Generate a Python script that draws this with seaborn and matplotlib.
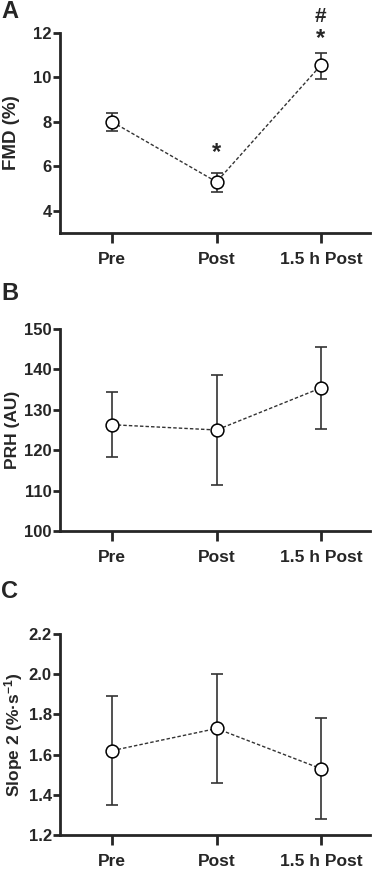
import numpy as np
import pandas as pd
import matplotlib
matplotlib.use("Agg")
import matplotlib.pyplot as plt
import seaborn as sns

# dados
grupos = ["Pre", "Post", "1.5 h Post"]

fmd_media = [8.0, 5.3, 10.55]
fmd_inf = [7.6, 4.85, 9.95]
fmd_sup = [8.4, 5.72, 11.1]

prh_media = [126.3, 125.0, 135.4]
prh_inf = [118.2, 111.3, 125.2]
prh_sup = [134.5, 138.5, 145.5]

slope_media = [1.62, 1.73, 1.53]
slope_inf = [1.35, 1.46, 1.28]
slope_sup = [1.89, 2.00, 1.78]

sns.set_style("ticks")
plt.rcParams["font.family"] = ["Liberation Sans", "DejaVu Sans"]
plt.rcParams["font.weight"] = "bold"
plt.rcParams["mathtext.fontset"] = "custom"
plt.rcParams["mathtext.rm"] = "Liberation Sans:bold"
plt.rcParams["mathtext.bf"] = "Liberation Sans:bold"
plt.rcParams["mathtext.default"] = "bf"

fig = plt.figure(figsize=(3.81, 8.69), dpi=100)

paineis = [
    ("A", fmd_media, fmd_inf, fmd_sup, "FMD (%)", 13.5, -0.13, (3, 12), [4, 6, 8, 10, 12],
     [0.1575, 0.7319, 0.8135, 0.2301], 12),
    ("B", prh_media, prh_inf, prh_sup, "PRH (AU)", 12.5, -0.13, (100, 150), [100, 110, 120, 130, 140, 150],
     [0.1575, 0.389, 0.8135, 0.2324], 293),
    ("C", slope_media, slope_inf, slope_sup, "Slope 2 (%·s$^{-1}$)", 12.5, -0.112, (1.2, 2.2),
     [1.2, 1.4, 1.6, 1.8, 2.0, 2.2], [0.1575, 0.0391, 0.8135, 0.2313], 592),
]

eixos = []
for letra, media, inf, sup, rotulo, fs, lx, lim, ticks, pos, ly in paineis:
    ax = fig.add_axes(pos)
    df = pd.DataFrame({"x": range(3), "y": media})
    err = [np.array(media) - np.array(inf), np.array(sup) - np.array(media)]
    ax.errorbar(df["x"], df["y"], yerr=err, fmt="none", ecolor="#333333",
                elinewidth=1.2, capsize=4, capthick=1.2, zorder=2)
    sns.lineplot(data=df, x="x", y="y", ax=ax, color="#333333", linewidth=1.0,
                 linestyle=(0, (2.5, 1.5)), zorder=3)
    sns.scatterplot(data=df, x="x", y="y", ax=ax, s=85, color="white",
                    edgecolor="black", linewidth=1.1, zorder=4)
    ax.set_xlim(-0.5, 2.47)
    ax.set_ylim(*lim)
    ax.set_yticks(ticks)
    ax.set_xticks(range(3))
    ax.set_xticklabels(grupos, fontsize=12.5, fontweight="bold")
    for t in ax.get_yticklabels():
        t.set_fontsize(12)
        t.set_fontweight("bold")
    ax.set_xlabel("")
    ax.set_ylabel(rotulo, fontsize=fs, fontweight="bold")
    ax.yaxis.set_label_coords(lx, 0.5)
    sns.despine(ax=ax)
    for s in ["left", "bottom"]:
        ax.spines[s].set_linewidth(2.0)
    ax.tick_params(axis="y", length=5, width=2.0, pad=1)
    ax.tick_params(axis="x", length=7, width=2.0, pad=7)
    fig.text(1 / 381, 1 - ly / 869, letra, fontsize=17, fontweight="bold", va="center", ha="left")
    eixos.append(ax)

# marcas de significancia
axA = eixos[0]
axA.text(1, 6.6, "*", ha="center", va="center", fontsize=17, fontweight="bold", clip_on=False)
axA.text(2, 11.75, "*", ha="center", va="center", fontsize=17, fontweight="bold", clip_on=False)
axA.text(2, 12.75, "#", ha="center", va="center", fontsize=15, fontweight="bold", clip_on=False)

fig.savefig("out.png", dpi=100)
